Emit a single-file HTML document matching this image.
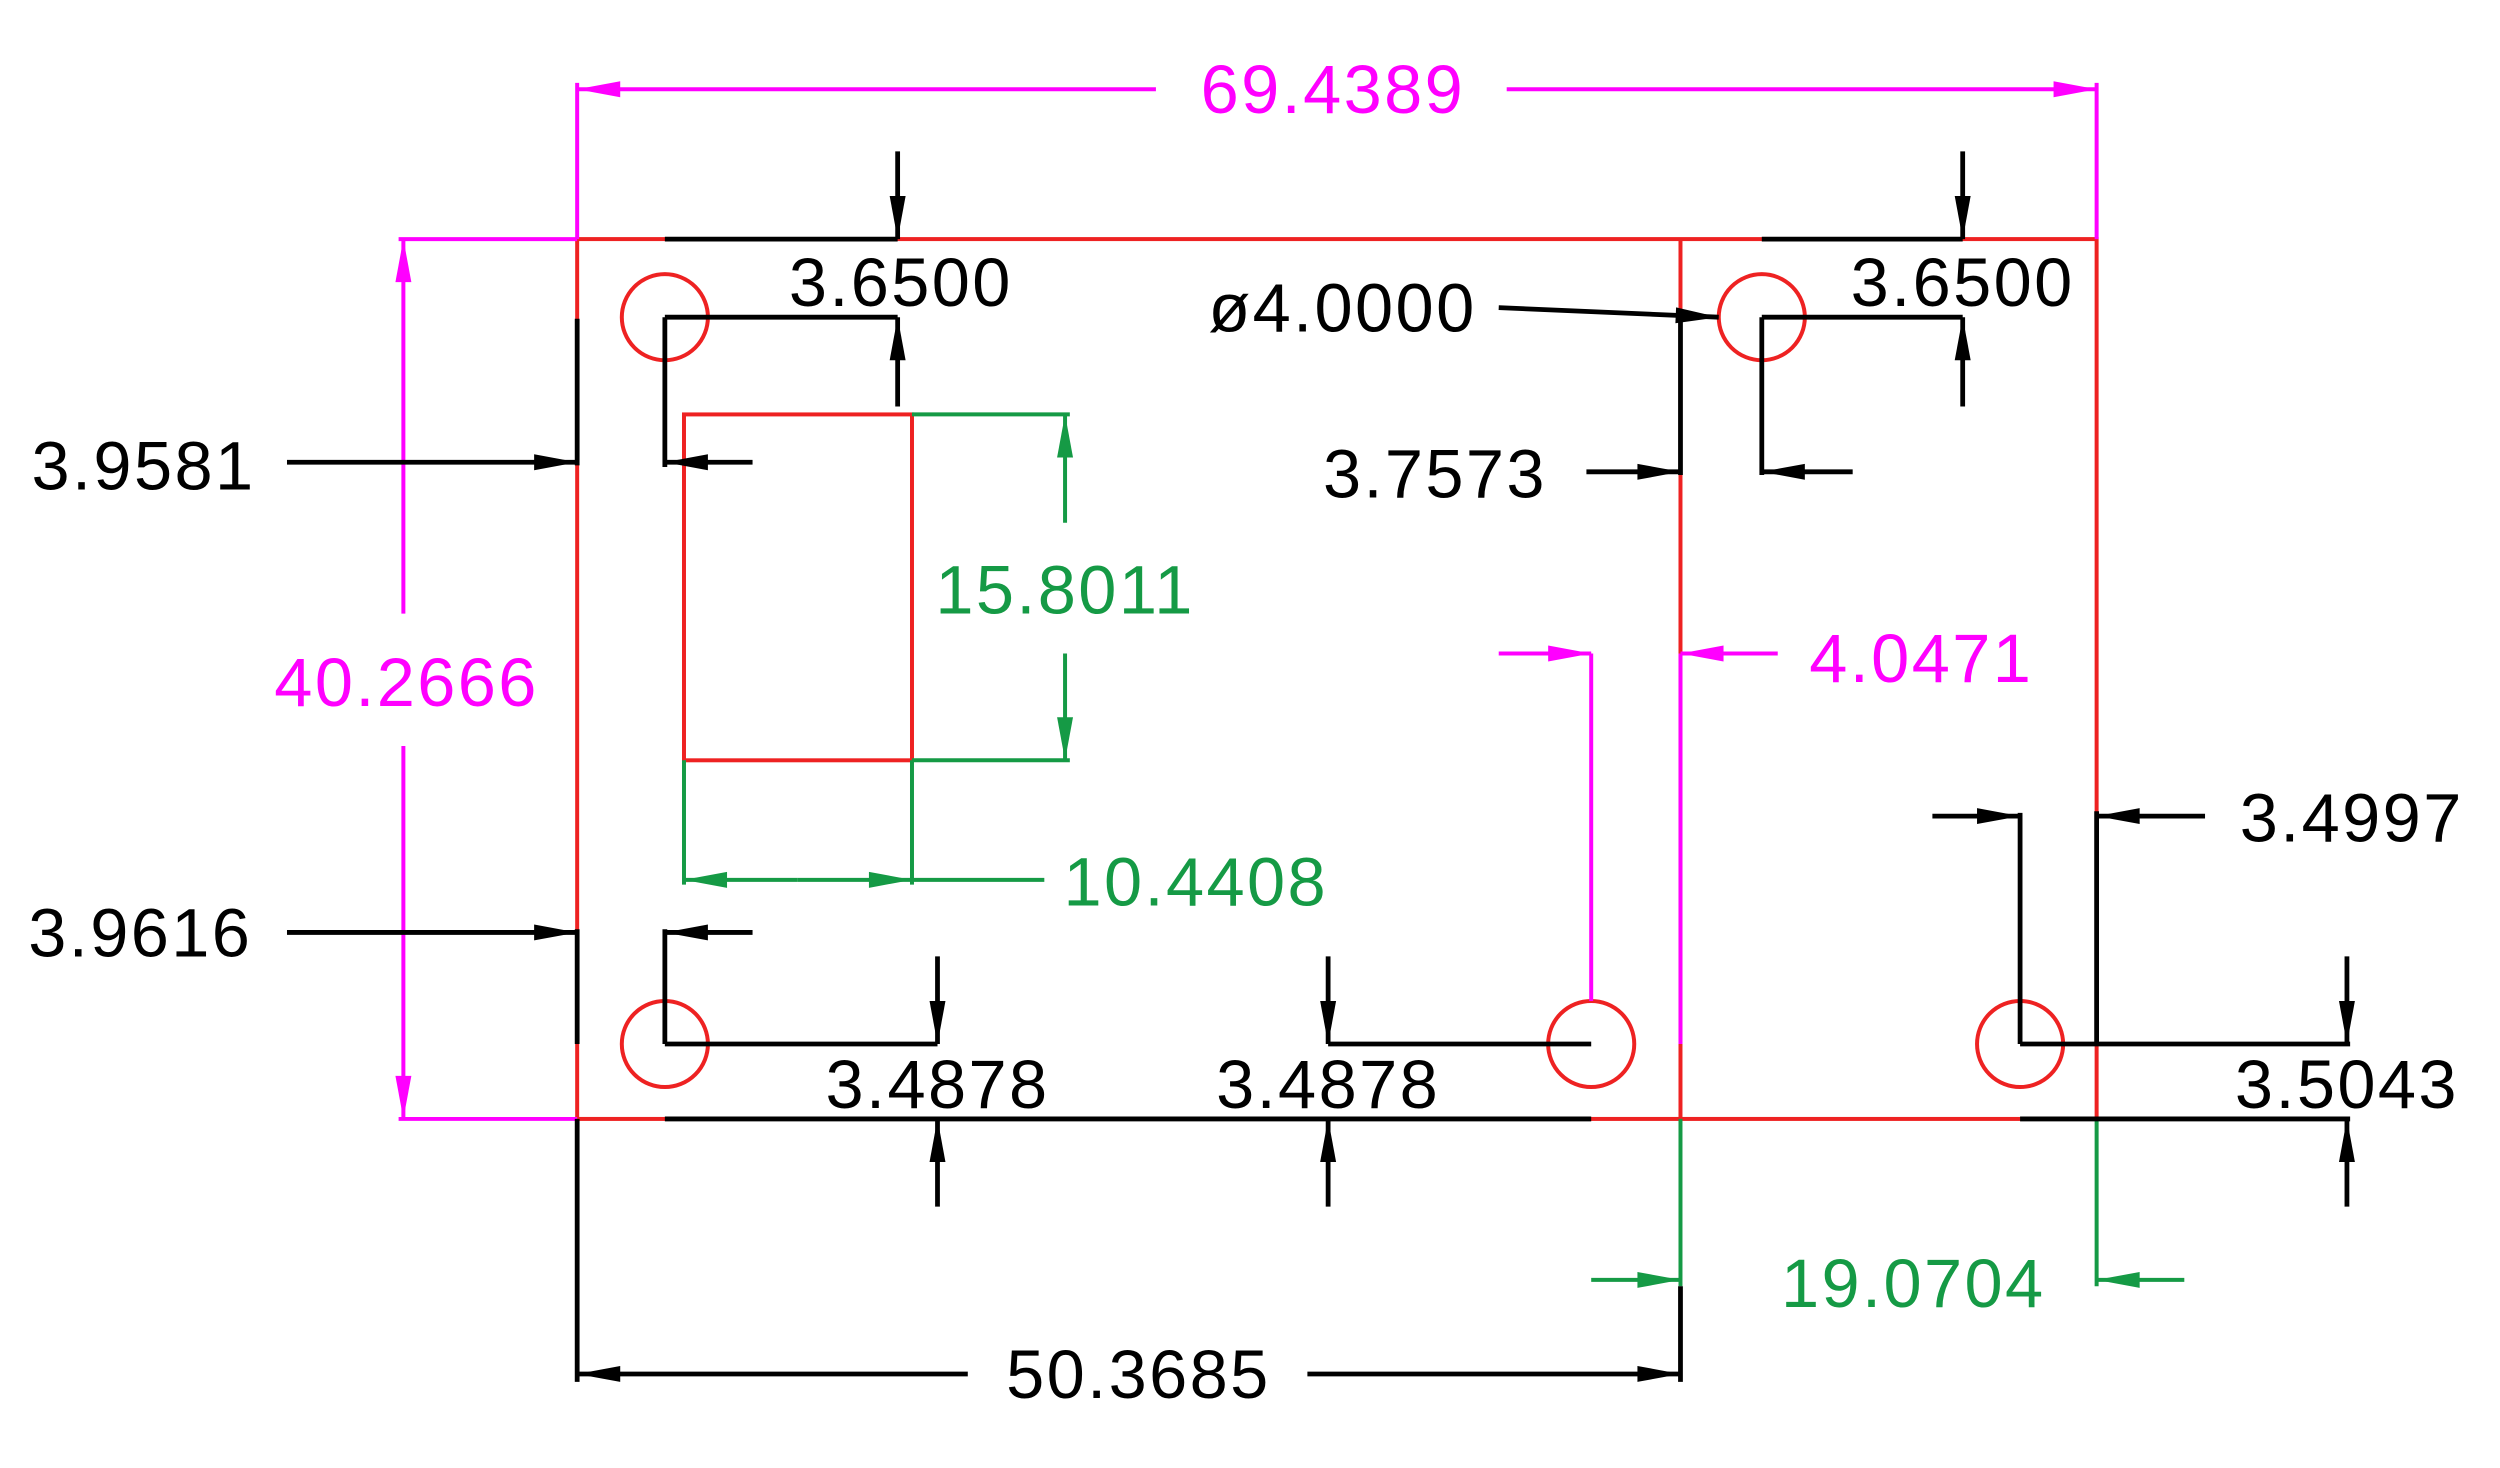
<!DOCTYPE html>
<html><head><meta charset="utf-8"><style>
html,body{margin:0;padding:0;background:#fff;}
svg{display:block;}
text{font-family:"Liberation Sans",sans-serif;font-size:43px;text-anchor:middle;letter-spacing:1.5px;}
</style></head><body>
<svg width="2500" height="1468" viewBox="0 0 1568 921" preserveAspectRatio="none" xmlns="http://www.w3.org/2000/svg">
<defs>
<marker id="ak" viewBox="-28 -6 29 12" refX="0" refY="0" markerWidth="29" markerHeight="12" markerUnits="userSpaceOnUse" orient="auto"><path d="M0,0 L-27,-5 L-27,5 z" fill="#000"/></marker>
<marker id="am" viewBox="-28 -6 29 12" refX="0" refY="0" markerWidth="29" markerHeight="12" markerUnits="userSpaceOnUse" orient="auto"><path d="M0,0 L-27,-5 L-27,5 z" fill="#ff00ff"/></marker>
<marker id="ag" viewBox="-28 -6 29 12" refX="0" refY="0" markerWidth="29" markerHeight="12" markerUnits="userSpaceOnUse" orient="auto"><path d="M0,0 L-27,-5 L-27,5 z" fill="#159a45"/></marker>
</defs>

<g stroke="#ee2222" stroke-width="2.5" fill="none">
<rect x="362" y="150" width="953" height="552"/>
<line x1="1054" y1="150" x2="1054" y2="702"/>
<rect x="429" y="260" width="143" height="217"/>
<circle cx="417" cy="199" r="27"/>
<circle cx="417" cy="655" r="27"/>
<circle cx="998" cy="655" r="27"/>
<circle cx="1105" cy="199" r="27"/>
<circle cx="1267" cy="655" r="27"/>
</g>

<g stroke="#ff00ff" stroke-width="2.5" fill="none">
<line x1="362" y1="52" x2="362" y2="150"/>
<line x1="1315" y1="52" x2="1315" y2="150"/>
<line x1="725" y1="56" x2="362" y2="56" marker-end="url(#am)"/>
<line x1="945" y1="56" x2="1315" y2="56" marker-end="url(#am)"/>
<line x1="250" y1="150" x2="362" y2="150"/>
<line x1="250" y1="702" x2="362" y2="702"/>
<line x1="253" y1="385" x2="253" y2="150" marker-end="url(#am)"/>
<line x1="253" y1="468" x2="253" y2="702" marker-end="url(#am)"/>
<line x1="998" y1="410" x2="998" y2="628"/>
<line x1="1054" y1="410" x2="1054" y2="655"/>
<line x1="940" y1="410" x2="998" y2="410" marker-end="url(#am)"/>
<line x1="1115" y1="410" x2="1054" y2="410" marker-end="url(#am)"/>
</g>
<g fill="#ff00ff">
<text x="836" y="71">69.4389</text>
<text x="255" y="443">40.2666</text>
<text x="1205" y="428">4.0471</text>
</g>

<g stroke="#159a45" stroke-width="2.5" fill="none">
<line x1="572" y1="260" x2="671" y2="260"/>
<line x1="572" y1="477" x2="671" y2="477"/>
<line x1="668" y1="328" x2="668" y2="260" marker-end="url(#ag)"/>
<line x1="668" y1="410" x2="668" y2="477" marker-end="url(#ag)"/>
<line x1="429" y1="477" x2="429" y2="555"/>
<line x1="572" y1="477" x2="572" y2="555"/>
<line x1="500" y1="552" x2="429" y2="552" marker-end="url(#ag)"/>
<line x1="500" y1="552" x2="572" y2="552" marker-end="url(#ag)"/>
<line x1="572" y1="552" x2="655" y2="552"/>
<line x1="1054" y1="702" x2="1054" y2="807"/>
<line x1="1315" y1="702" x2="1315" y2="807"/>
<line x1="998" y1="803" x2="1054" y2="803" marker-end="url(#ag)"/>
<line x1="1370" y1="803" x2="1315" y2="803" marker-end="url(#ag)"/>
</g>
<g fill="#159a45">
<text x="668" y="385">15.8011</text>
<text x="750" y="568">10.4408</text>
<text x="1200" y="820">19.0704</text>
</g>

<g stroke="#000" stroke-width="3" fill="none">
<line x1="417" y1="150" x2="563" y2="150"/>
<line x1="417" y1="199" x2="563" y2="199"/>
<line x1="563" y1="95" x2="563" y2="150" marker-end="url(#ak)"/>
<line x1="563" y1="255" x2="563" y2="199" marker-end="url(#ak)"/>
<line x1="362" y1="200" x2="362" y2="292"/>
<line x1="417" y1="199" x2="417" y2="293"/>
<line x1="180" y1="290" x2="362" y2="290" marker-end="url(#ak)"/>
<line x1="472" y1="290" x2="417" y2="290" marker-end="url(#ak)"/>
<line x1="362" y1="583" x2="362" y2="655"/>
<line x1="417" y1="583" x2="417" y2="655"/>
<line x1="180" y1="585" x2="362" y2="585" marker-end="url(#ak)"/>
<line x1="472" y1="585" x2="417" y2="585" marker-end="url(#ak)"/>
<line x1="417" y1="655" x2="588" y2="655"/>
<line x1="417" y1="702" x2="998" y2="702"/>
<line x1="588" y1="600" x2="588" y2="655" marker-end="url(#ak)"/>
<line x1="588" y1="757" x2="588" y2="702" marker-end="url(#ak)"/>
<line x1="833" y1="655" x2="998" y2="655"/>
<line x1="833" y1="600" x2="833" y2="655" marker-end="url(#ak)"/>
<line x1="833" y1="757" x2="833" y2="702" marker-end="url(#ak)"/>
<line x1="940" y1="193" x2="1078" y2="199" marker-end="url(#ak)"/>
<line x1="1054" y1="199" x2="1054" y2="298"/>
<line x1="1105" y1="199" x2="1105" y2="298"/>
<line x1="995" y1="296" x2="1054" y2="296" marker-end="url(#ak)"/>
<line x1="1162" y1="296" x2="1105" y2="296" marker-end="url(#ak)"/>
<line x1="1105" y1="150" x2="1231" y2="150"/>
<line x1="1105" y1="199" x2="1231" y2="199"/>
<line x1="1231" y1="95" x2="1231" y2="150" marker-end="url(#ak)"/>
<line x1="1231" y1="255" x2="1231" y2="199" marker-end="url(#ak)"/>
<line x1="1267" y1="510" x2="1267" y2="655"/>
<line x1="1315" y1="509" x2="1315" y2="655"/>
<line x1="1212" y1="512" x2="1267" y2="512" marker-end="url(#ak)"/>
<line x1="1383" y1="512" x2="1315" y2="512" marker-end="url(#ak)"/>
<line x1="1267" y1="655" x2="1474" y2="655"/>
<line x1="1267" y1="702" x2="1474" y2="702"/>
<line x1="1472" y1="600" x2="1472" y2="655" marker-end="url(#ak)"/>
<line x1="1472" y1="757" x2="1472" y2="702" marker-end="url(#ak)"/>
<line x1="362" y1="702" x2="362" y2="867"/>
<line x1="1054" y1="807" x2="1054" y2="867"/>
<line x1="607" y1="862" x2="362" y2="862" marker-end="url(#ak)"/>
<line x1="820" y1="862" x2="1054" y2="862" marker-end="url(#ak)"/>
</g>
<g fill="#000">
<text x="565" y="192">3.6500</text>
<text x="842" y="208">ø4.0000</text>
<text x="1231" y="192">3.6500</text>
<text x="900" y="312">3.7573</text>
<text x="90" y="307">3.9581</text>
<text x="88" y="600">3.9616</text>
<text x="1475" y="528">3.4997</text>
<text x="588" y="695">3.4878</text>
<text x="833" y="695">3.4878</text>
<text x="1472" y="695">3.5043</text>
<text x="714" y="877">50.3685</text>
</g>
</svg>
</body></html>
